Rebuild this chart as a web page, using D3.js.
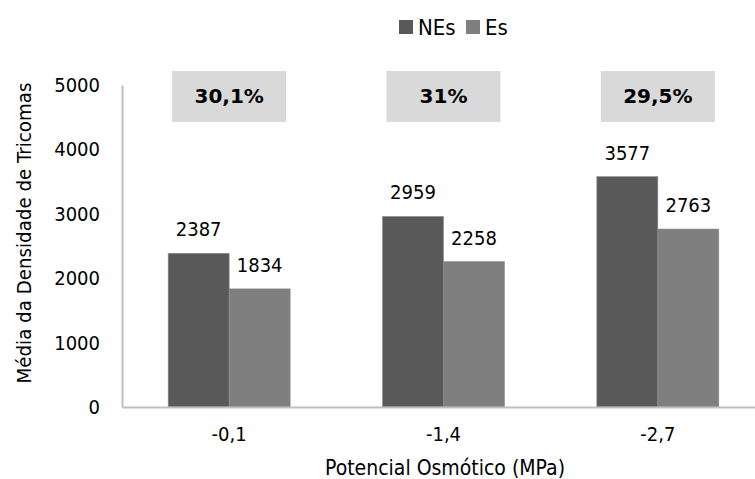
<!DOCTYPE html>
<html>
<head>
<meta charset="utf-8">
<script src="https://cdn.jsdelivr.net/npm/d3@7"></script>
<style>
  html, body { margin: 0; padding: 0; background: #fff; }
  svg text { font-family: "DejaVu Sans Condensed", "DejaVu Sans", sans-serif; font-stretch: condensed; fill: #000; }
  svg text.wide { font-family: "DejaVu Sans", sans-serif; font-stretch: normal; }
</style>
</head>
<body>
<svg id="chart" width="755" height="479"></svg>
<script>
// Trichome density by osmotic potential
const categories = ["-0,1", "-1,4", "-2,7"];
const seriesNames = ["NEs", "Es"];
const nesValues = [2387, 2959, 3577];
const esValues = [1834, 2258, 2763];
const reductionLabels = ["30,1%", "31%", "29,5%"];
const yTicks = [0, 1000, 2000, 3000, 4000, 5000];

const colors = { NEs: "#595959", Es: "#7f7f7f" };

const svg = d3.select("#chart");
const plotLeft = 122, plotRight = 765, plotTop = 85, plotBottom = 407;

const x = d3.scaleBand().domain(categories).range([plotLeft, plotRight]).paddingInner(0).paddingOuter(0);
const xs = d3.scaleBand().domain(seriesNames).range([0, x.bandwidth()]).paddingInner(0).paddingOuter(0.757);
const y = d3.scaleLinear().domain([0, 5000]).range([plotBottom, plotTop]);

const rows = categories.map((c, i) => ({ cat: c, NEs: nesValues[i], Es: esValues[i], pct: reductionLabels[i] }));

// Reduction boxes above each group
const boxW = 114, boxH = 51;
const boxes = svg.append("g");
boxes.selectAll("rect").data(rows).join("rect")
  .attr("x", d => x(d.cat) + x.bandwidth() / 2 - boxW / 2)
  .attr("y", 71)
  .attr("width", boxW).attr("height", boxH)
  .attr("fill", "#d9d9d9");
boxes.selectAll("text").data(rows).join("text")
  .attr("class", "wide")
  .attr("x", d => x(d.cat) + x.bandwidth() / 2)
  .attr("y", 103)
  .attr("text-anchor", "middle")
  .attr("font-size", 20).attr("font-weight", "bold")
  .text(d => d.pct);

// Bars
const groups = svg.append("g").selectAll("g").data(rows).join("g")
  .attr("transform", d => `translate(${x(d.cat)},0)`);
groups.selectAll("rect").data(d => seriesNames.map(k => ({ key: k, value: d[k] }))).join("rect")
  .attr("x", d => xs(d.key))
  .attr("y", d => y(d.value))
  .attr("width", xs.bandwidth())
  .attr("height", d => y(0) - y(d.value))
  .attr("fill", d => colors[d.key])
  .attr("stroke", "#8c8c8c").attr("stroke-width", 0.6);
groups.selectAll("text").data(d => seriesNames.map(k => ({ key: k, value: d[k] }))).join("text")
  .attr("x", d => xs(d.key) + xs.bandwidth() / 2)
  .attr("y", d => y(d.value) - 17)
  .attr("text-anchor", "middle")
  .attr("font-size", 20)
  .text(d => d.value);

// Axes
const yAxis = svg.append("g").attr("transform", `translate(${plotLeft},0)`)
  .call(d3.axisLeft(y).tickValues(yTicks).tickSize(0).tickPadding(22).tickFormat(d3.format("d")));
yAxis.select(".domain").attr("stroke", "#bfbfbf").attr("stroke-width", 2);
yAxis.selectAll("text").attr("font-size", 20).attr("font-family", null);

const xAxis = svg.append("g").attr("transform", `translate(0,${plotBottom})`)
  .call(d3.axisBottom(x).tickSize(0).tickPadding(20));
xAxis.select(".domain").attr("stroke", "#bfbfbf").attr("stroke-width", 2);
xAxis.selectAll("text").attr("font-size", 20).attr("font-family", null);

// Axis titles
svg.append("text")
  .attr("transform", `translate(31,233) rotate(-90)`)
  .attr("text-anchor", "middle")
  .attr("font-size", 20.3)
  .text("Média da Densidade de Tricomas");
svg.append("text")
  .attr("x", 445).attr("y", 475)
  .attr("text-anchor", "middle")
  .attr("font-size", 21)
  .text("Potencial Osmótico (MPa)");

// Legend
const legend = svg.append("g");
const legendItems = [{ key: "NEs", x: 399 }, { key: "Es", x: 466 }];
legend.selectAll("rect").data(legendItems).join("rect")
  .attr("x", d => d.x).attr("y", 20).attr("width", 14).attr("height", 14)
  .attr("fill", d => colors[d.key]);
legend.selectAll("text").data(legendItems).join("text")
  .attr("x", d => d.x + 19).attr("y", 35)
  .attr("font-size", 22)
  .text(d => d.key);
</script>
</body>
</html>
